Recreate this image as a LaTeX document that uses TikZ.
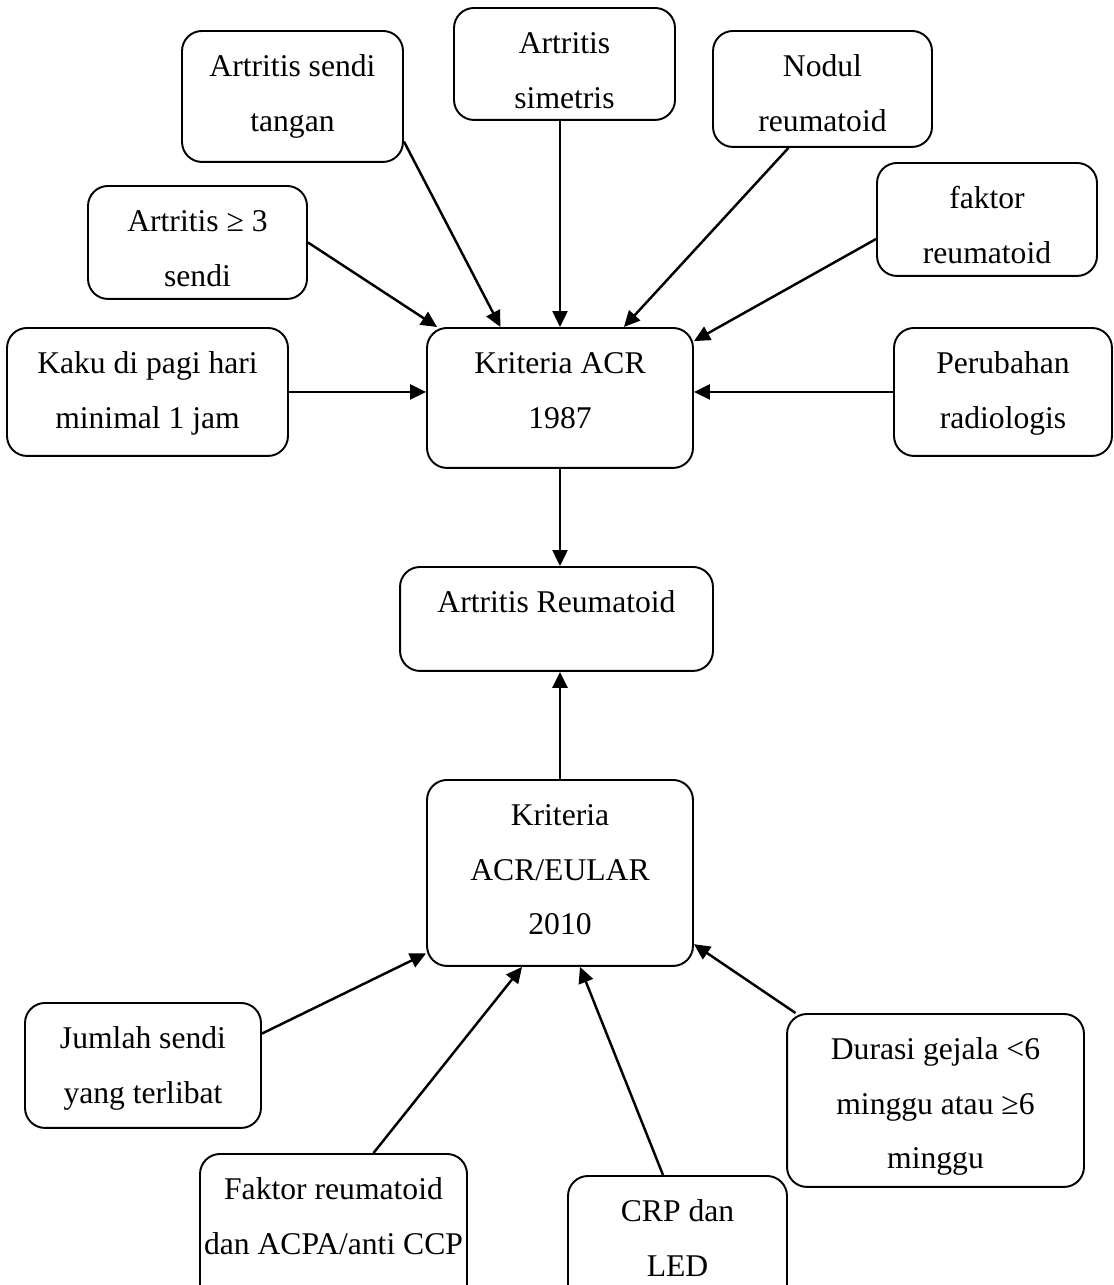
\documentclass[tikz,border=0pt]{standalone}
\usepackage{fontspec}
\setmainfont{Liberation Serif}
\usepackage{tikz}
\usetikzlibrary{arrows.meta, calc}

\begin{document}
\begin{tikzpicture}[->, >={Triangle[length=0.32cm, width=0.3cm]}, line width=1.4pt,
 x=0.02cm, y=-0.02cm,
 kotak/.style={draw, line width=1.1pt, rounded corners=0.4cm, align=flush center,
   anchor=north, inner sep=0pt, text height=0.92cm,
   font=\fontsize{18pt}{31pt}\selectfont}]

 \useasboundingbox (0,0) rectangle (1113,1285);

 % kriteria ACR 1987
 \node[kotak, text width=5.32cm, text depth=1.88cm] (acr) at (560,327) {Kriteria ACR\\1987};
 \node[kotak, text width=4.42cm, text depth=1.7cm] (tangan) at (292.5,30) {Artritis sendi\\tangan};
 \node[kotak, text width=4.42cm, text depth=1.32cm] (simetris) at (564.5,7) {Artritis\\simetris};
 \node[kotak, text width=4.38cm, text depth=1.4cm] (nodul) at (822.5,30) {Nodul\\reumatoid};
 \node[kotak, text width=4.38cm, text depth=1.34cm] (tiga) at (197.5,185) {Artritis ≥ 3\\sendi};
 \node[kotak, text width=4.4cm, text depth=1.34cm] (faktor) at (987,162) {faktor\\reumatoid};
 \node[kotak, text width=5.62cm, text depth=1.64cm] (kaku) at (147.5,327) {Kaku di pagi hari\\minimal 1 jam};
 \node[kotak, text width=4.36cm, text depth=1.64cm] (radiologi) at (1003,327) {Perubahan\\radiologis};

 % hasil
 \node[kotak, text width=6.26cm, text depth=1.16cm] (reum) at (556.5,566) {Artritis Reumatoid};

 % kriteria ACR/EULAR 2010
 \node[kotak, text width=5.32cm, text depth=2.8cm] (eular) at (560,779) {Kriteria\\ACR/EULAR\\2010};
 \node[kotak, text width=4.72cm, text depth=1.58cm] (jumlah) at (143,1002) {Jumlah sendi\\yang terlibat};
 \node[kotak, text width=5.94cm, text depth=2.54cm] (durasi) at (935.5,1013) {Durasi gejala <6\\minggu atau ≥6\\minggu};
 \node[kotak, text width=5.34cm, text depth=2.4cm] (faktorb) at (333.5,1153) {Faktor reumatoid\\dan ACPA/anti CCP};
 \node[kotak, text width=4.38cm, text depth=2.4cm] (crp) at (677.5,1175) {CRP dan\\LED};

 \path
  (tangan.-22) edge (acr.130)
  (simetris.south -| acr.north) edge (acr.north)
  (nodul.-120) edge (acr.48)
  (tiga.east) edge (acr.150)
  (faktor.190) edge (acr.23)
  (kaku.east) edge (kaku.east -| acr.west)
  (radiologi.west) edge (radiologi.west -| acr.east)
  (acr.south) edge (acr.south |- reum.north)
  (eular.north) edge (eular.north |- reum.south)
  (jumlah.15) edge (eular.211)
  ([xshift=0.8cm]faktorb.north) edge (eular.-112)
  ([xshift=-0.29cm]crp.north) edge (eular.-78)
  (durasi.148) edge (eular.-28);
\end{tikzpicture}
\end{document}
